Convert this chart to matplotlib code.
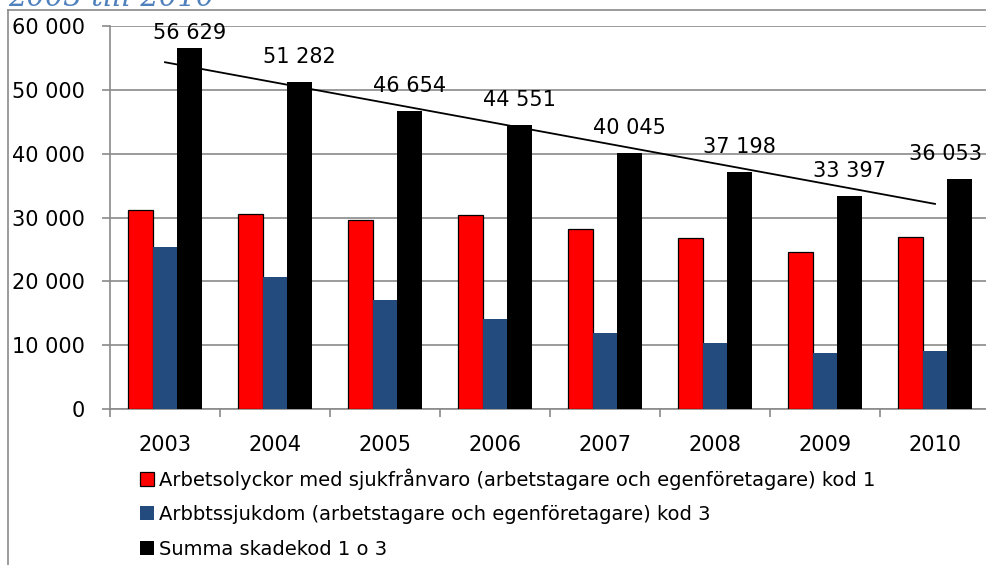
import numpy as np
import matplotlib
matplotlib.use("Agg")
import matplotlib.pyplot as plt
from matplotlib.lines import Line2D
from matplotlib.patches import Patch

years = ["2003", "2004", "2005", "2006", "2007", "2008", "2009", "2010"]
olyckor = [31250, 30550, 29600, 30400, 28150, 26850, 24550, 27000]
sjukdom = [25380, 20730, 17050, 14150, 11900, 10350, 8850, 9050]
summa = [56629, 51282, 46654, 44551, 40045, 37198, 33397, 36053]

labels = [
    "Arbetsolyckor med sjukfrånvaro (arbetstagare och egenföretagare) kod 1",
    "Arbbtssjukdom (arbetstagare och egenföretagare) kod 3",
    "Summa skadekod 1 o 3",
]
colors = ["#ff0000", "#234b7d", "#000000"]

grey = "#8a8a8a"

W, H = 986, 565
fig = plt.figure(figsize=(W / 100, H / 100), dpi=100)

# frame of the text box round the chart
fig.add_artist(Line2D([8 / W, 8 / W], [0, 1 - 10 / H], color=grey, lw=1.2))
fig.add_artist(Line2D([8 / W, 1], [1 - 10 / H, 1 - 10 / H], color=grey, lw=1.2))

# title, mostly cut off at the top
fig.text(8 / W, 1 - 6 / H, "2003 till 2010", color="#4f81bd", fontsize=21,
         family="DejaVu Serif", style="italic", va="baseline", ha="left")

ax = fig.add_axes([110 / W, (H - 409) / H, 880 / W, 383 / H])

x = np.arange(len(years))
w = 0.222
ax.bar(x - w, olyckor, w, color=colors[0], edgecolor="black", linewidth=0.9, zorder=3)
ax.bar(x, sjukdom, w, color=colors[1], zorder=3)
ax.bar(x + w, summa, w, color=colors[2], zorder=3)

# value labels above the totals, kept inside the plot area
for i, v in enumerate(summa):
    dx = -10 if i == len(summa) - 1 else 0
    ax.annotate(f"{v:,}".replace(",", " "), (x[i] + w, min(v + 2980, 57960)),
                xytext=(dx, 0), textcoords="offset points",
                ha="center", va="baseline", fontsize=15, zorder=5)

# linear trend over the totals
k, m = np.polyfit(x + 1, summa, 1)
ax.plot(x, k * (x + 1) + m, color="black", lw=1.3, zorder=4)

ax.set_xlim(-0.5, len(years) - 0.5)
ax.set_ylim(0, 60000)
ax.set_yticks(range(0, 60001, 10000))
ax.set_yticklabels([f"{v:,}".replace(",", " ") for v in range(0, 60001, 10000)],
                   fontsize=15)
ax.yaxis.grid(True, color=grey, lw=1.2, zorder=0)
ax.set_axisbelow(True)

ax.set_xticks(x)
ax.set_xticklabels(years, fontsize=15)
ax.set_xticks(np.arange(-0.5, len(years)), minor=True)
ax.tick_params(axis="x", which="major", length=0, pad=19)
ax.tick_params(axis="x", which="minor", length=6, color=grey, width=1.2)
ax.tick_params(axis="y", length=6, color=grey, width=1.2, pad=12)

for s in ["top", "right"]:
    ax.spines[s].set_visible(False)
for s in ["left", "bottom"]:
    ax.spines[s].set_color(grey)
    ax.spines[s].set_linewidth(1.2)

handles = [Patch(facecolor=colors[0], edgecolor="black", lw=0.9),
           Patch(facecolor=colors[1]), Patch(facecolor=colors[2])]
fig.legend(handles, labels, loc="upper left", bbox_to_anchor=(140 / W, 1 - 468 / H),
           frameon=False, prop={"size": 14},
           handlelength=0.7, handleheight=0.7, handletextpad=0.3,
           labelspacing=0.8, borderpad=0, borderaxespad=0)

fig.savefig("out.png", dpi=100)
